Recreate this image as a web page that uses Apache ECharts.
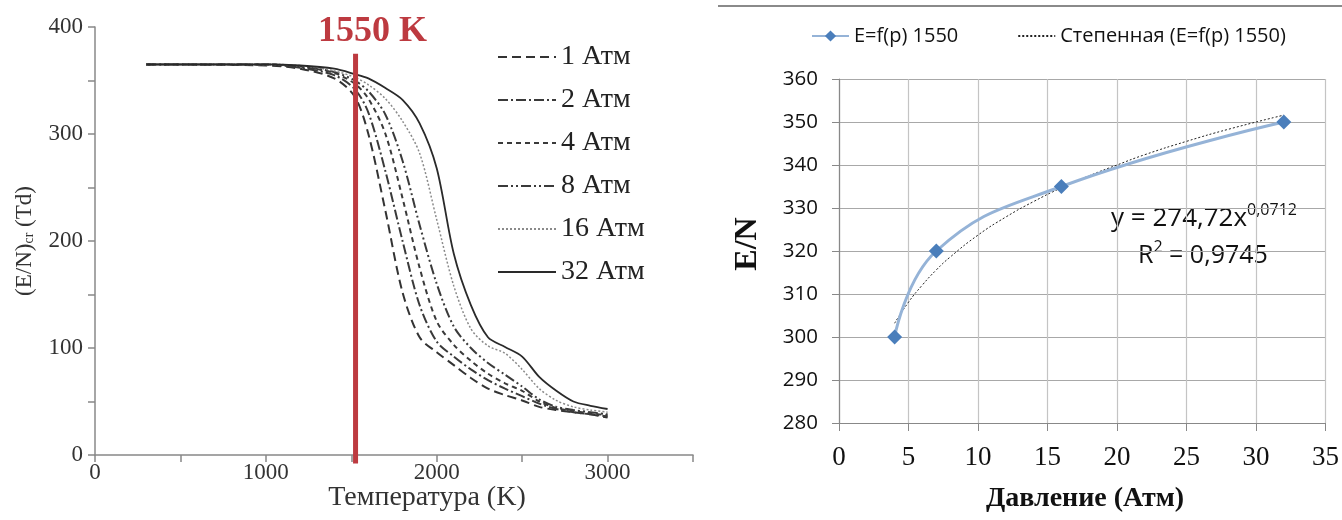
<!DOCTYPE html>
<html><head><meta charset="utf-8">
<script src="https://cdn.jsdelivr.net/npm/echarts@6/dist/echarts.min.js"></script>
<style>html,body{margin:0;padding:0;background:#fff}#c{width:1342px;height:520px}</style>
</head><body><div id="c"></div>
<script>
// ---- Left chart data: critical E/N vs temperature at several pressures ----
const temps = [300,1000,1200,1400,1520,1600,1700,1800,1900,2000,2100,2200,2300,2400,2500,2600,2700,2800,2900,3000];
const atm1  = [365,364,361,352,335,300,228,152,110, 96, 84, 72, 62, 56, 51, 45, 42, 40, 38, 35];
const atm2  = [365,365,362,355,342,320,265,200,140,106, 92, 80, 70, 62, 55, 48, 43, 40, 38, 36];
const atm4  = [365,365,363,357,347,333,300,240,175,125,103, 88, 76, 67, 60, 50, 44, 41, 39, 37];
const atm8  = [365,365,363,358,350,340,318,275,215,160,120,100, 86, 75, 64, 52, 45, 42, 40, 38];
const atm16 = [365,365,364,359,353,346,333,312,282,220,158,118,102, 95, 80, 62, 51, 45, 42, 40];
const atm32 = [365,365,364,361,356,352,343,332,310,268,188,140,110,101, 92, 73, 60, 50, 46, 43];
const leftNames = ['1 Атм','2 Атм','4 Атм','8 Атм','16 Атм','32 Атм'];
const markerT = 1525;          // red vertical line position (as drawn)
const markerSpan = [375, -8];   // red line vertical extent (values)
const leftYTicks = [0,100,200,300,400];
const leftXTicks = [0,1000,2000,3000];

// ---- Right chart data: E/N vs pressure at 1550 K ----
const pressure = [4, 7, 16, 32];
const enValues = [300, 320, 335, 350];
const trendP = [4,5,6,7,8,10,12,14,16,18,20,22,25,28,32];
const trendV = [303.2,308.1,312.1,315.6,318.6,323.7,327.9,331.5,334.7,337.5,340.0,342.4,345.5,348.3,351.6];
const rightNames = ['E=f(p) 1550','Степенная (E=f(p) 1550)'];

const SERIF = '"Liberation Serif","Times New Roman",serif';
const SANS = '"Open Sans","Noto Sans",sans-serif';
const CLEAR = 'rgba(0,0,0,0)';

const zip = (xs, ys) => xs.map((x, i) => [x, ys[i]]);
const leftData = [atm1, atm2, atm4, atm8, atm16, atm32];
const leftStyles = [
  {color:'#333', width:2, type:[9,5]},
  {color:'#3a3a3a', width:2, type:[10,3,2,3]},
  {color:'#3a3a3a', width:2, type:[5,4]},
  {color:'#3a3a3a', width:2, type:[10,3,2,3,2,3]},
  {color:'#8a8a8a', width:1.5, type:[2,2]},
  {color:'#2a2a2a', width:1.8, type:'solid'}
];

const series = leftData.map((d, i) => ({
  name: leftNames[i], type:'line', xAxisIndex:0, yAxisIndex:0,
  data: zip(temps, d), showSymbol:false, symbol:'none',
  smooth:0.3, lineStyle: leftStyles[i], itemStyle:{color:CLEAR}, silent:true, z:3
}));
series.push({
  type:'line', xAxisIndex:0, yAxisIndex:0, clip:false, symbol:'none',
  data: [[markerT, markerSpan[0]], [markerT, markerSpan[1]]],
  lineStyle:{color:'#bd3a40', width:5}, z:5, silent:true
});
series.push({
  name: rightNames[1], type:'line', xAxisIndex:1, yAxisIndex:1,
  data: zip(trendP, trendV), symbol:'none', showSymbol:false, smooth:true,
  lineStyle:{color:'#222', width:1, type:[2,2]}, itemStyle:{color:CLEAR}, z:3
});
series.push({
  name: rightNames[0], type:'line', xAxisIndex:1, yAxisIndex:1,
  data: zip(pressure, enValues), symbol:'diamond', symbolSize:15, smooth:0.45,
  lineStyle:{color:'#95b3d7', width:3}, itemStyle:{color:'#4a7ebb'}, z:4
});

const chart = echarts.init(document.getElementById('c'));
chart.setOption({
  animation:false,
  backgroundColor:'#fff',
  grid:[
    {left:95, top:27, width:598, height:428},
    {left:839, top:79, width:491, height:344}
  ],
  legend:[
    {data:leftNames, orient:'vertical', left:492, top:38, itemWidth:58, itemHeight:14, itemGap:15,
     textStyle:{fontFamily:SERIF, fontSize:28, color:'#222', lineHeight:28}, selectedMode:false},
    {data:rightNames, orient:'horizontal', left:806, top:21, itemWidth:37, itemHeight:14, itemGap:59,
     textStyle:{fontFamily:SANS, fontSize:20, color:'#111'}, selectedMode:false}
  ],
  xAxis:[
    {type:'value', gridIndex:0, min:0, max:3500, interval:500,
     axisLine:{lineStyle:{color:'#888', width:1.5}}, axisTick:{show:true, length:7, lineStyle:{color:'#888', width:1.5}},
     splitLine:{show:false},
     axisLabel:{fontFamily:SERIF, fontSize:23, color:'#333', margin:6,
       formatter: v => leftXTicks.includes(v) ? String(v) : ''}},
    {type:'value', gridIndex:1, min:0, max:35, interval:5,
     axisLine:{lineStyle:{color:'#888', width:1.2}}, axisTick:{show:true, length:8, lineStyle:{color:'#888'}},
     splitLine:{show:true, lineStyle:{color:'#c4c4c4', width:1.2}},
     axisLabel:{fontFamily:SERIF, fontSize:27, color:'#111', margin:21}}
  ],
  yAxis:[
    {type:'value', gridIndex:0, min:0, max:400, interval:50,
     axisLine:{show:true, lineStyle:{color:'#888', width:1.5}}, axisTick:{show:true, length:7, lineStyle:{color:'#888', width:1.5}},
     splitLine:{show:false},
     axisLabel:{fontFamily:SERIF, fontSize:23, color:'#333', margin:12,
       formatter: v => leftYTicks.includes(v) ? String(v) : ''}},
    {type:'value', gridIndex:1, min:280, max:360, interval:10,
     axisLine:{show:true, lineStyle:{color:'#888', width:1.2}}, axisTick:{show:true, length:7, lineStyle:{color:'#888'}},
     splitLine:{show:true, lineStyle:{color:'#a8a8a8', width:1.2}},
     axisLabel:{fontFamily:SANS, fontSize:20.5, color:'#111', margin:21}}
  ],
  graphic:[
    {type:'line', shape:{x1:718, y1:6, x2:1342, y2:6}, style:{stroke:'#8a8a8a', lineWidth:2}},
    {type:'text', left:318, top:14, style:{text:'1550 K', fontFamily:SERIF, fontWeight:'bold', fontSize:36, fill:'#bd3a40'}},
    {type:'text', x:25, y:241, rotation:Math.PI/2,
     style:{text:'{a|(E/N)}{s|cr}{a| (Td)}', textAlign:'center', textVerticalAlign:'middle',
       rich:{a:{fontFamily:SERIF, fontSize:23, fill:'#333'}, s:{fontFamily:SERIF, fontSize:14, fill:'#333', verticalAlign:'bottom', lineHeight:23}}}},
    {type:'text', x:427, y:498, style:{text:'Температура (K)', textAlign:'center', textVerticalAlign:'middle', fontFamily:SERIF, fontSize:28, fill:'#333'}},
    {type:'text', x:748, y:244, rotation:Math.PI/2,
     style:{text:'E/N', textAlign:'center', textVerticalAlign:'middle', fontFamily:SERIF, fontWeight:'bold', fontSize:32, fill:'#111'}},
    {type:'text', x:1085, y:499, style:{text:'Давление (Атм)', textAlign:'center', textVerticalAlign:'middle', fontFamily:SERIF, fontWeight:'bold', fontSize:28, fill:'#111'}},
    {type:'text', x:1111, y:219, style:{text:'{m|y = 274,72x}{p|0,0712}', textVerticalAlign:'middle',
       rich:{m:{fontFamily:SANS, fontSize:26, fill:'#111', lineHeight:34}, p:{fontFamily:SANS, fontSize:16, fill:'#111', verticalAlign:'top', lineHeight:34}}}},
    {type:'text', x:1138, y:256, style:{text:'{m|R}{p|2}{m| = 0,9745}', textVerticalAlign:'middle',
       rich:{m:{fontFamily:SANS, fontSize:25, fill:'#111', lineHeight:34}, p:{fontFamily:SANS, fontSize:16, fill:'#111', verticalAlign:'top', lineHeight:34}}}}
  ],
  series: series
});
</script></body></html>
